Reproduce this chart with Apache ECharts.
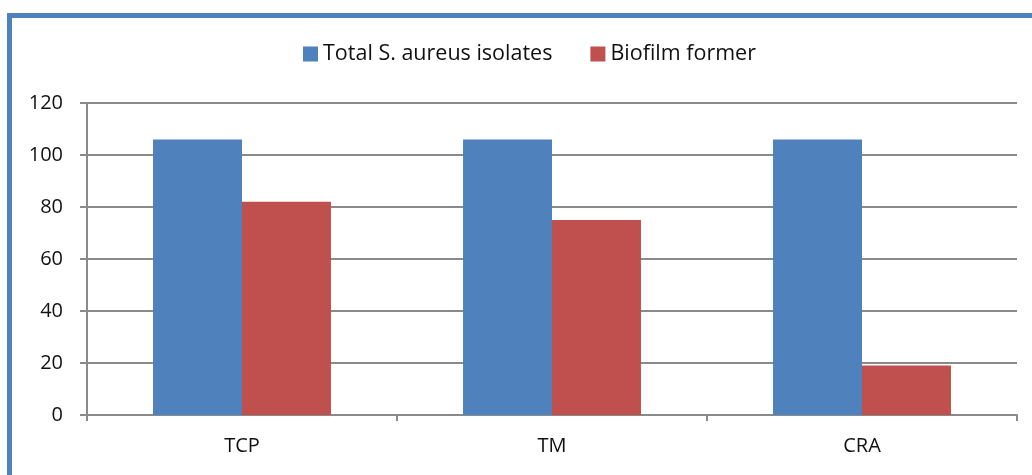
<!DOCTYPE html>
<html><head><meta charset="utf-8">
<script src="https://cdn.jsdelivr.net/npm/echarts@6/dist/echarts.min.js"></script>
<style>
html,body{margin:0;padding:0;background:#fff;}
#frame{position:absolute;left:7px;top:13px;width:1040px;height:480px;border-left:5px solid #4f81bd;border-top:5px solid #4f81bd;box-sizing:border-box;}
#c{position:absolute;left:0;top:0;width:1032px;height:475px;}
</style></head>
<body>
<div id="frame"></div>
<div id="c"></div>
<script>
const categories = ['TCP', 'TM', 'CRA'];
const totalIsolates = [106, 106, 106];
const biofilmFormer = [82, 75, 19];
const seriesNames = ['Total S. aureus isolates', 'Biofilm former'];

const chart = echarts.init(document.getElementById('c'), null, {renderer: 'canvas'});
const font = '"Open Sans", "Noto Sans", sans-serif';
chart.setOption({
  animation: false,
  legend: {
    top: 43, left: 303, padding: 0, itemWidth: 15, itemHeight: 15, itemGap: 38,
    icon: 'rect',
    textStyle: {fontFamily: font, fontSize: 21.5, color: '#111'},
    data: seriesNames
  },
  grid: {left: 87, right: 15, top: 103, bottom: 60, containLabel: false},
  xAxis: {
    type: 'category', data: categories,
    axisLine: {lineStyle: {color: '#8a8a8a', width: 2}},
    axisTick: {show: true, length: 6, lineStyle: {color: '#8a8a8a', width: 2}},
    axisLabel: {fontFamily: font, fontSize: 20, color: '#111', margin: 21}
  },
  yAxis: {
    type: 'value', min: 0, max: 120, interval: 20,
    axisLine: {show: true, lineStyle: {color: '#8a8a8a', width: 2}},
    axisTick: {show: true, length: 7, lineStyle: {color: '#8a8a8a', width: 2}},
    splitLine: {lineStyle: {color: '#8a8a8a', width: 2}},
    axisLabel: {fontFamily: font, fontSize: 20, color: '#111', margin: 24}
  },
  series: [
    {name: seriesNames[0], type: 'bar', data: totalIsolates, itemStyle: {color: '#4f81bd'}, barGap: '0%', barCategoryGap: '42.6%'},
    {name: seriesNames[1], type: 'bar', data: biofilmFormer, itemStyle: {color: '#c0504d'}, barGap: '0%', barCategoryGap: '42.6%'}
  ]
});
</script>
</body></html>
